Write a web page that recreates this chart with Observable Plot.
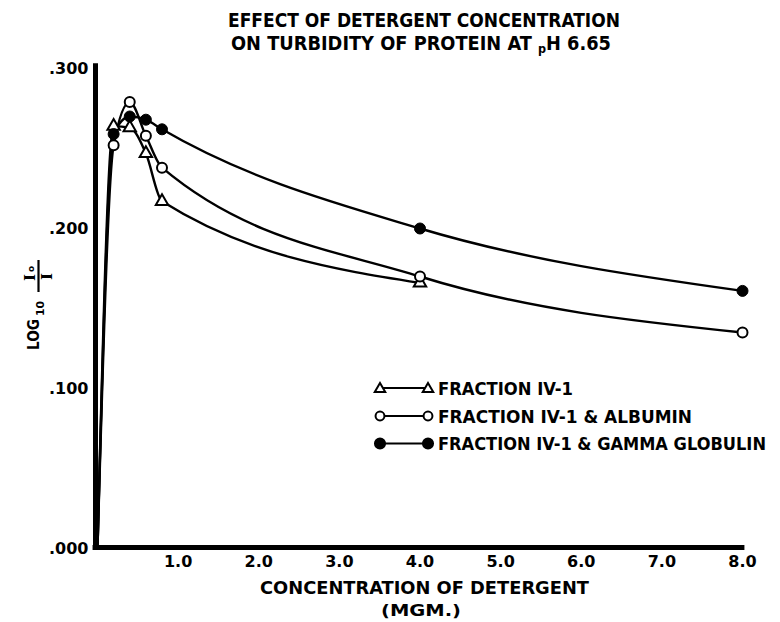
<!DOCTYPE html>
<html><head><meta charset="utf-8">
<script src="https://cdn.jsdelivr.net/npm/d3@7"></script>
<script src="https://cdn.jsdelivr.net/npm/@observablehq/plot@0.6"></script>
<style>
body{margin:0;background:#fff;}
#wrap{position:relative;width:780px;height:622px;overflow:hidden;background:#fff;}
#wrap svg{position:absolute;left:0;top:0;}
</style></head><body><div id="wrap"></div>
<script>
// ---- data ----
const concentration = [0, 0.2, 0.4, 0.6, 0.8, 4.0, 8.0];
const fractionIV1 = [0, 0.264, 0.263, 0.247, 0.217, 0.166, null];
const withAlbumin = [0, 0.252, 0.279, 0.258, 0.238, 0.170, 0.135];
const withGammaGlobulin = [0, 0.259, 0.270, 0.268, 0.262, 0.200, 0.161];
const seriesNames = ["FRACTION IV-1", "FRACTION IV-1 & ALBUMIN", "FRACTION IV-1 & GAMMA GLOBULIN"];
const yTicks = [0, 0.1, 0.2, 0.3];
const xTicks = [1, 2, 3, 4, 5, 6, 7, 8];
const titleLines = ["EFFECT OF DETERGENT CONCENTRATION", "ON TURBIDITY OF PROTEIN AT pH 6.65"];
const xLabelLines = ["CONCENTRATION OF DETERGENT", "(MGM.)"];

const seriesValues = [fractionIV1, withAlbumin, withGammaGlobulin];
const rows = [];
seriesValues.forEach((vals, i) => concentration.forEach((c, j) => {
  if (vals[j] != null) rows.push({series: seriesNames[i], x: c, y: vals[j], marked: j > 0});
}));
const marked = name => rows.filter(d => d.marked && d.series === name);

const chart = Plot.plot({
  width: 780, height: 622,
  marginLeft: 97, marginRight: 38, marginTop: 68, marginBottom: 74,
  x: {domain: [0, 8]},
  y: {domain: [0, 0.3]},
  style: {fontFamily: "DejaVu Sans", background: "white", color: "black"},
  marks: [
    Plot.ruleX([0], {y1: 0, y2: 0.303, dx: -2, stroke: "black", strokeWidth: 5}),
    Plot.ruleY([0], {x1: -0.055, x2: 8.03, dy: -1, stroke: "black", strokeWidth: 5}),
    Plot.line(rows, {x: "x", y: "y", z: "series", curve: "monotone-x", stroke: "black", strokeWidth: 2.4}),
    Plot.dot(marked(seriesNames[0]), {x: "x", y: "y", symbol: "triangle", r: 4.6, fill: "white", stroke: "black", strokeWidth: 2}),
    Plot.dot(marked(seriesNames[1]), {x: "x", y: "y", r: 5, fill: "white", stroke: "black", strokeWidth: 2}),
    Plot.dot(marked(seriesNames[2]), {x: "x", y: "y", r: 5.5, fill: "black", stroke: "black", strokeWidth: 1}),
    Plot.axisY({ticks: yTicks, tickSize: 0, tickPadding: 9, tickFormat: d => d3.format(".3f")(d).slice(1),
      fontSize: 16, fontWeight: "bold", label: null}),
    Plot.axisX({ticks: xTicks, tickSize: 0, tickPadding: 7, tickFormat: d3.format(".1f"),
      fontSize: 16, fontWeight: "bold", label: null})
  ]
});
document.getElementById("wrap").appendChild(chart);

// ---- overlay: title, axis labels, legend ----
const svg = d3.select("#wrap").append("svg").attr("width", 780).attr("height", 622)
  .style("pointer-events", "none");

const cond = "DejaVu Sans Condensed";
svg.append("text").attr("x", 424).attr("y", 27).attr("text-anchor", "middle")
  .attr("font-family", cond).attr("font-weight", "bold").attr("font-size", 19)
  .attr("textLength", 392).attr("lengthAdjust", "spacingAndGlyphs").text(titleLines[0]);
{
  const [pre, post] = titleLines[1].split("pH");
  const t = svg.append("text").attr("x", 421).attr("y", 50).attr("text-anchor", "middle")
    .attr("font-family", cond).attr("font-weight", "bold").attr("font-size", 19)
    .attr("textLength", 380).attr("lengthAdjust", "spacingAndGlyphs");
  t.append("tspan").text(pre);
  t.append("tspan").attr("font-size", 12).attr("dy", 3).text("p");
  t.append("tspan").attr("dy", -3).text("H" + post);
}

svg.append("text").attr("x", 424.5).attr("y", 594).attr("text-anchor", "middle")
  .attr("font-family", cond).attr("font-weight", "bold").attr("font-size", 18)
  .attr("textLength", 329).attr("lengthAdjust", "spacingAndGlyphs").text(xLabelLines[0]);
svg.append("text").attr("x", 421).attr("y", 616).attr("text-anchor", "middle")
  .attr("font-family", cond).attr("font-weight", "bold").attr("font-size", 16)
  .attr("textLength", 80).attr("lengthAdjust", "spacingAndGlyphs").text(xLabelLines[1]);

// y label: LOG10 (I0 / I)
{
  const g = svg.append("g").attr("transform", "translate(39,350) rotate(-90)")
    .attr("font-weight", "bold").attr("fill", "black");
  g.append("text").attr("x", 0).attr("y", 0).attr("font-family", "DejaVu Sans").attr("font-size", 15)
    .attr("textLength", 31).attr("lengthAdjust", "spacingAndGlyphs").text("LOG");
  g.append("text").attr("x", 34).attr("y", 5).attr("font-family", "DejaVu Sans").attr("font-size", 11)
    .attr("textLength", 15).attr("lengthAdjust", "spacingAndGlyphs").text("10");
  g.append("text").attr("x", 69).attr("y", -4).attr("font-family", "DejaVu Serif").attr("font-size", 15)
    .text("I");
  g.append("text").attr("x", 78).attr("y", -5).attr("font-family", "DejaVu Sans").attr("font-size", 9)
    .text("o");
  g.append("line").attr("x1", 58).attr("x2", 90).attr("y1", -0.5).attr("y2", -0.5)
    .attr("stroke", "black").attr("stroke-width", 2.2);
  g.append("text").attr("x", 70).attr("y", 13).attr("font-family", "DejaVu Serif").attr("font-size", 15)
    .text("I");
}

// legend
const legendY = [388, 416, 443.5];
const legendLen = [135, 254, 328];
const symbolsL = [
  {shape: d3.symbolTriangle, size: 48, fill: "white"},
  {shape: d3.symbolCircle, size: 62, fill: "white"},
  {shape: d3.symbolCircle, size: 80, fill: "black"}
];
seriesNames.forEach((name, i) => {
  const cy = legendY[i];
  svg.append("line").attr("x1", 380).attr("x2", 428).attr("y1", cy).attr("y2", cy)
    .attr("stroke", "black").attr("stroke-width", 2.2);
  [380, 428].forEach(cx => {
    svg.append("path").attr("d", d3.symbol(symbolsL[i].shape, symbolsL[i].size)())
      .attr("transform", `translate(${cx},${cy + (i === 0 ? 1 : 0)})`)
      .attr("fill", symbolsL[i].fill).attr("stroke", "black").attr("stroke-width", 2);
  });
  svg.append("text").attr("x", 438).attr("y", cy + 6.5)
    .attr("font-family", "DejaVu Sans").attr("font-weight", "bold").attr("font-size", 17)
    .attr("textLength", legendLen[i]).attr("lengthAdjust", "spacingAndGlyphs").text(name);
});
</script></body></html>
